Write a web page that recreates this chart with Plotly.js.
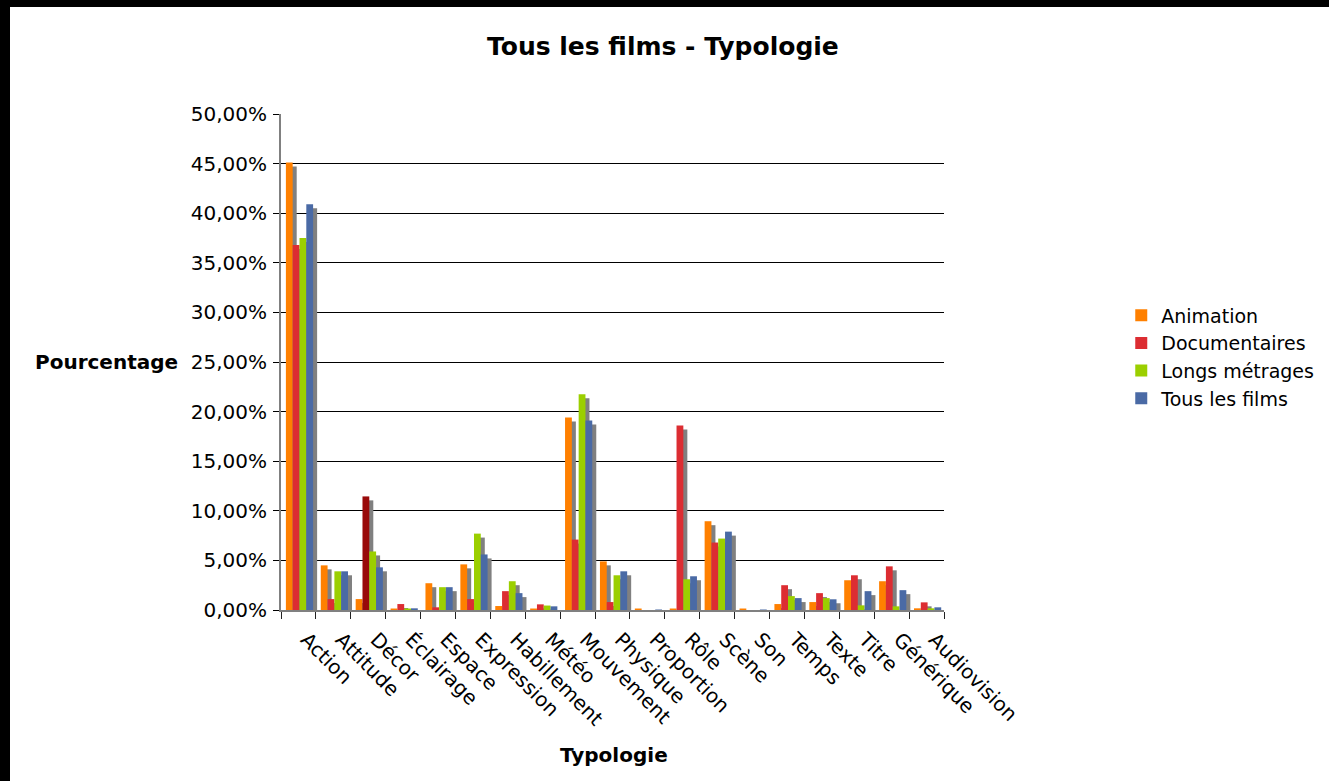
<!DOCTYPE html>
<html>
<head>
<meta charset="utf-8">
<script src="https://cdn.plot.ly/plotly-3.0.1.min.js"></script>
<style>
  html, body { margin: 0; padding: 0; background: #fff; width: 1329px; height: 781px; overflow: hidden; }
  #bandTop { position: absolute; left: 0; top: 0; width: 1329px; height: 7px; background: #000; }
  #bandLeft { position: absolute; left: 0; top: 0; width: 10px; height: 781px; background: #000; }
  #chart { position: absolute; left: 10px; top: 7px; width: 1319px; height: 774px; }
</style>
</head>
<body>
<div id="bandTop"></div>
<div id="bandLeft"></div>
<div id="chart"></div>
<script>
const categories = ['Action','Attitude','Décor','Éclairage','Espace','Expression','Habillement','Météo','Mouvement','Physique','Proportion','Rôle','Scène','Son','Temps','Texte','Titre','Générique','Audiovision'];

const animation     = [45.1, 4.5, 1.1, 0.15, 2.7, 4.6, 0.4, 0.15, 19.4, 4.9, 0.15, 0.15, 8.95, 0.15, 0.6, 0.8, 3.0, 2.9, 0.17];
const documentaires = [36.8, 1.1, 11.45, 0.6, 0.27, 1.1, 1.9, 0.57, 7.1, 0.8, 0, 18.6, 6.8, 0, 2.5, 1.7, 3.5, 4.4, 0.77];
const longsMetrages = [37.5, 3.9, 5.9, 0.15, 2.3, 7.7, 2.9, 0.45, 21.75, 3.5, 0, 3.1, 7.2, 0, 1.4, 1.2, 0.47, 0.37, 0.17];
const tousLesFilms  = [40.9, 3.9, 4.3, 0.17, 2.3, 5.6, 1.7, 0.37, 19.1, 3.9, 0.05, 3.4, 7.9, 0.05, 1.2, 1.08, 1.9, 2.0, 0.27];

const seriesNames = ['Animation', 'Documentaires', 'Longs métrages', 'Tous les films'];

const seriesList = [
  { name: seriesNames[0], values: animation,     color: '#FF8000' },
  { name: seriesNames[1], values: documentaires, color: '#DC2D32', highlight: { index: 2, color: '#990A0A' } },
  { name: seriesNames[2], values: longsMetrages, color: '#9BCF00' },
  { name: seriesNames[3], values: tousLesFilms,  color: '#4A6AA5' }
];

const barWidth = 0.195;
const offsets = [-0.36, -0.165, 0.03, 0.225];
const shadowDx = 0.115;
const shadowDy = -0.4;

const traces = [];
seriesList.forEach((s, i) => {
  traces.push({
    type: 'bar', x: categories, y: s.values, base: shadowDy,
    offset: offsets[i] + shadowDx, width: barWidth,
    marker: { color: '#808080', line: { width: 0 } },
    showlegend: false, hoverinfo: 'skip'
  });
  const colors = s.values.map((v, j) => (s.highlight && s.highlight.index === j) ? s.highlight.color : s.color);
  traces.push({
    type: 'bar', x: categories, y: s.values, name: s.name,
    offset: offsets[i], width: barWidth,
    marker: { color: colors, line: { width: 0 } }
  });
});

const layout = {
  width: 1319, height: 774,
  margin: { l: 271, r: 385, t: 107, b: 171 },
  paper_bgcolor: '#fff', plot_bgcolor: '#fff',
  barmode: 'overlay',
  separators: ', ',
  font: { family: 'DejaVu Sans, Verdana, sans-serif', size: 20, color: '#000' },
  title: {
    text: 'Tous les films - Typologie',
    font: { size: 25, weight: 'bold', color: '#000' },
    xref: 'container', x: 0.495, xanchor: 'center',
    yref: 'container', y: 0.949, yanchor: 'middle'
  },
  xaxis: {
    type: 'category', categoryorder: 'array', categoryarray: categories,
    range: [-0.5, 18.5],
    tickangle: 45, ticks: 'outside', tickson: 'boundaries', ticklen: 7, tickcolor: '#222', tickwidth: 1,
    showline: true, linecolor: '#808080', linewidth: 2,
    showgrid: false, zeroline: false, automargin: false,
    tickfont: { size: 20 }, ticklabelstandoff: 8, ticklabelshift: 8
  },
  yaxis: {
    range: [0, 50], dtick: 5, tick0: 0,
    tickformat: '.2f', ticksuffix: '%',
    showgrid: true, gridcolor: '#000', gridwidth: 1,
    showline: true, linecolor: '#808080', linewidth: 2,
    ticks: 'outside', ticklen: 6, tickcolor: '#000', ticklabelstandoff: 2,
    zeroline: false, automargin: false,
    tickfont: { size: 20 }
  },
  legend: {
    xref: 'container', x: 0.8425, xanchor: 'left',
    yref: 'container', y: 0.548, yanchor: 'middle',
    font: { size: 19 }, bgcolor: 'rgba(0,0,0,0)', traceorder: 'normal', itemwidth: 30
  },
  annotations: [
    {
      text: 'Pourcentage', showarrow: false,
      xref: 'paper', x: -0.152, xanchor: 'right',
      yref: 'paper', y: 0.5, yanchor: 'middle',
      font: { size: 20, weight: 'bold' }
    },
    {
      text: 'Typologie', showarrow: false,
      xref: 'paper', x: 0.503, xanchor: 'center',
      yref: 'paper', y: -0.293, yanchor: 'middle',
      font: { size: 20, weight: 'bold' }
    }
  ],
  showlegend: true
};

Plotly.newPlot('chart', traces, layout, { displayModeBar: false, staticPlot: true });
</script>
</body>
</html>
